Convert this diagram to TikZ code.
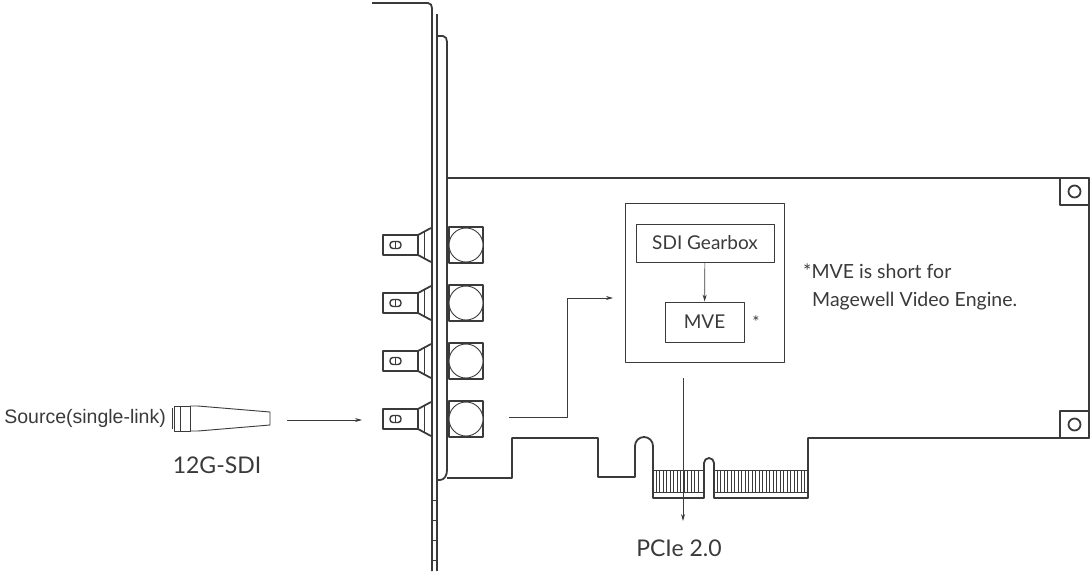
\documentclass[tikz,border=0pt]{standalone}
\usepackage{fontspec}
\setmainfont{Lato}
\newfontfamily\arialf{Liberation Sans}
\usetikzlibrary{arrows.meta}
\definecolor{ink}{HTML}{3A3A3A}
\begin{document}
\begin{tikzpicture}[x=1pt,y=-1pt,line join=round,
  board/.style={draw=ink,line width=1.8pt},
  thin/.style={draw=ink,line width=0.9pt},
  arr/.style={draw=ink,line width=0.7pt,-{Stealth[length=7pt,width=4pt]}},
  lbl/.style={text=ink,font=\fontsize{19}{22}\selectfont,inner sep=0pt},
  box/.style={draw=ink,line width=0.9pt,inner sep=0pt}]
\useasboundingbox (0,0) rectangle (1091,571);
% bracket
\draw[board] (372,3) -- (428,3) to[out=0,in=90] (432,8) -- (432,571);
\draw[board] (437,14) -- (437,571);
\draw[board] (437,36) -- (443,36) to[out=0,in=90] (447,42) -- (447,470) to[out=-90,in=0] (440,480) -- (437,480);
\foreach \y in {500,520,540,560} \draw[thin] (432,\y) -- (437,\y);
% board outline
\draw[board] (447,178) -- (1089,178) -- (1089,438) -- (808,438) -- (808,498) -- (714,498)
  -- (714,463) arc (0:-180:5) -- (704,498) -- (653,498) -- (653,446) arc (0:-180:9) -- (635,477)
  -- (598,477) -- (598,438) -- (512,438) -- (512,478) -- (447,478);
% gold fingers
\draw[thin] (653,470) rectangle (703,492) (714,470) rectangle (808,492);
\foreach \x in {656,659.5,...,701} \draw[ink,line width=0.6pt] (\x,470) -- (\x,492);
\foreach \x in {717,720.5,...,806} \draw[ink,line width=0.6pt] (\x,470) -- (\x,492);
% mounting holes
\draw[board] (1060,178) rectangle (1089,205); \draw[board] (1074.5,191.5) circle (6);
\draw[board] (1060,411) rectangle (1089,438); \draw[board] (1074.5,424.5) circle (6);
% connectors
\foreach \y [count=\i] in {245,303,361,419}{
  \draw[board] (383,\y-10) rectangle (418,\y+10);
  \draw[board] (418,\y-10) -- (431,\y-17) (418,\y+10) -- (431,\y+17);
  \draw[thin] (424,\y-13) -- (424,\y+13);
  \draw[ink,line width=1.4pt,rounded corners=3pt] (390,\y-3.5) rectangle (401,\y+3.5);
  \draw[ink,line width=1.2pt] (395.5,\y-3) -- (395.5,\y+3);
  \draw[board] (449,\y-18) rectangle (483,\y+18);
  \draw[thin,fill=white] (466,\y) circle (17);
}
\coordinate (cin) at (509,417);
% chip
\node[box,minimum width=159pt,minimum height=159pt] (chip) at (704.5,282.5) {};
\node[box,lbl,minimum width=138pt,minimum height=38pt] (gb) at (705,243) {SDI Gearbox};
\node[box,lbl,minimum width=79pt,minimum height=40pt] (mve) at (704.5,322) {MVE};
\node[lbl,font=\fontsize{17}{20}\selectfont] (star) at (756,322) {*};
\node[lbl,anchor=west,font=\fontsize{19.5}{22}\selectfont] (n1) at (803,271) {*MVE is short for};
\node[lbl,anchor=west,font=\fontsize{19.5}{22}\selectfont] (n2) at (812,301) {Magewell Video Engine.};
\draw[arr] (gb) -- (mve);
\draw[arr] (cin) -- (567,417) -- (567,298) -- (613,298);
\coordinate (pa) at (683,378);
\node[lbl,font=\fontsize{23}{26}\selectfont] (pcie) at (679,548) {PCIe 2.0};
\draw[arr] (pa) -- (683,521);
% cable
\node[lbl,font=\arialf\fontsize{19.5}{23}\selectfont,anchor=east] (src) at (166,418) {Source(single-link)};
\draw[thin] (174,406) rectangle (180,431);
\draw[thin] (180,406) rectangle (190,431);
\draw[thin] (190,406) -- (198,406) -- (270,412) -- (270,425) -- (198,431) -- (190,431);
\draw[thin] (172,408) -- (172,429);
\node[lbl,font=\fontsize{23}{26}\selectfont] (sdi) at (217,465) {12G-SDI};
\coordinate (ca) at (287,420); \coordinate (cb) at (362,420);
\draw[arr] (ca) -- (cb);
\end{tikzpicture}
\end{document}
